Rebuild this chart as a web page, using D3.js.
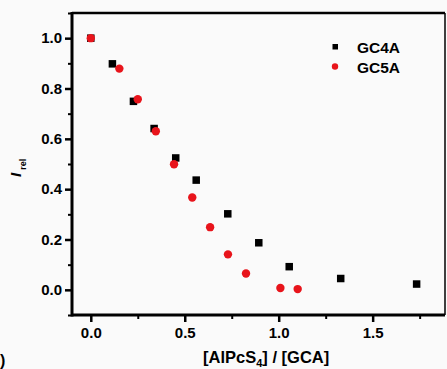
<!DOCTYPE html>
<html>
<head>
<meta charset="utf-8">
<script src="https://cdn.jsdelivr.net/npm/d3@7"></script>
<style>
  body { margin: 0; background: #fafafa; }
  svg { display: block; font-family: "Liberation Sans", Arial, sans-serif; }
  .tick text { font-weight: bold; font-size: 15px; fill: #000; }
</style>
</head>
<body>
<svg id="chart" width="447" height="369"></svg>
<script>
// GC4A (squares)
const gc4aX = [0.0, 0.115, 0.227, 0.337, 0.452, 0.561, 0.729, 0.894, 1.056, 1.330, 1.734];
const gc4aY = [1.0, 0.898, 0.749, 0.641, 0.524, 0.436, 0.302, 0.187, 0.092, 0.045, 0.023];
// GC5A (circles)
const gc5aX = [0.0, 0.152, 0.250, 0.346, 0.443, 0.540, 0.635, 0.730, 0.826, 1.009, 1.101];
const gc5aY = [1.0, 0.879, 0.757, 0.630, 0.499, 0.367, 0.249, 0.141, 0.065, 0.007, 0.003];

const xTicks = [0.0, 0.5, 1.0, 1.5];
const yTicks = [0.0, 0.2, 0.4, 0.6, 0.8, 1.0];

const gc4a = gc4aX.map((x, i) => ({ x: x, y: gc4aY[i] }));
const gc5a = gc5aX.map((x, i) => ({ x: x, y: gc5aY[i] }));

const margin = { left: 72, top: 13, right: 2, bottom: 54 };
const width = 447 - margin.left - margin.right;
const height = 369 - margin.top - margin.bottom;

const svg = d3.select("#chart");
const vis = svg.append("g").attr("transform", `translate(${margin.left}, ${margin.top})`);

const xScale = d3.scaleLinear().domain([-0.1, 1.885]).range([0, width]);
const yScale = d3.scaleLinear().domain([-0.1, 1.1]).range([height, 0]);

// minor ticks
vis.append("g")
    .attr("transform", `translate(0, ${height})`)
    .call(d3.axisBottom(xScale).tickValues([0.25, 0.75, 1.25, 1.75]).tickSize(4).tickFormat(""))
    .call(g => g.select(".domain").remove())
    .selectAll("line").attr("stroke-width", 2);
vis.append("g")
    .call(d3.axisLeft(yScale).tickValues([-0.1, 0.1, 0.3, 0.5, 0.7, 0.9, 1.1]).tickSize(4).tickFormat(""))
    .call(g => g.select(".domain").remove())
    .selectAll("line").attr("stroke-width", 2);

// X axis
vis.append("g")
    .attr("transform", `translate(0, ${height})`)
    .call(d3.axisBottom(xScale).tickValues(xTicks).tickSize(7).tickPadding(5).tickFormat(d3.format(".1f")))
    .call(g => g.select(".domain").remove())
    .selectAll("line").attr("stroke-width", 2.5);

// Y axis
vis.append("g")
    .call(d3.axisLeft(yScale).tickValues(yTicks).tickSize(7).tickPadding(3).tickFormat(d3.format(".1f")))
    .call(g => g.select(".domain").remove())
    .selectAll("line").attr("stroke-width", 2.5);

// frame
vis.append("line").attr("x1", width).attr("x2", width).attr("y1", 0).attr("y2", height)
    .attr("stroke", "#000").attr("stroke-width", 1.5);
vis.append("line").attr("x1", 0).attr("x2", width).attr("y1", 0).attr("y2", 0)
    .attr("stroke", "#000").attr("stroke-width", 2.5);
vis.append("line").attr("x1", 0).attr("x2", width).attr("y1", height).attr("y2", height)
    .attr("stroke", "#000").attr("stroke-width", 3);
vis.append("line").attr("x1", 0).attr("x2", 0).attr("y1", -1).attr("y2", height + 1.5)
    .attr("stroke", "#000").attr("stroke-width", 3);

// points
const sq = 7.5;
vis.append("g").selectAll("rect")
    .data(gc4a)
    .enter()
    .append("rect")
    .attr("x", d => xScale(d.x) - sq / 2)
    .attr("y", d => yScale(d.y) - sq / 2)
    .attr("width", sq)
    .attr("height", sq)
    .attr("fill", "#000");

vis.append("g").selectAll("circle")
    .data(gc5a)
    .enter()
    .append("circle")
    .attr("cx", d => xScale(d.x))
    .attr("cy", d => yScale(d.y))
    .attr("r", 4.2)
    .attr("fill", "#e8141b");

// legend
svg.append("rect").attr("x", 332.5).attr("y", 44).attr("width", 5.5).attr("height", 5.5).attr("fill", "#000");
svg.append("circle").attr("cx", 335).attr("cy", 66.5).attr("r", 3.2).attr("fill", "#e8141b");
svg.append("text").attr("x", 357).attr("y", 52.5).attr("font-weight", "bold").attr("font-size", 15.5).text("GC4A");
svg.append("text").attr("x", 357).attr("y", 72.5).attr("font-weight", "bold").attr("font-size", 15.5).text("GC5A");

// axis titles
const xt = svg.append("text").attr("x", 203).attr("y", 363).attr("font-weight", "bold").attr("font-size", 16.5);
xt.append("tspan").text("[AlPcS");
xt.append("tspan").attr("font-size", 11).attr("dy", 4).text("4");
xt.append("tspan").attr("dy", -4).text("] / [GCA]");

const yt = svg.append("text").attr("transform", "translate(21, 177) rotate(-90)")
    .attr("font-weight", "bold").attr("font-size", 15);
yt.append("tspan").attr("font-style", "italic").text("I");
yt.append("tspan").attr("font-size", 9).attr("dx", 3).attr("dy", 5).text("rel");

// cropped panel label (only the closing bracket is visible)
svg.append("text").attr("x", 0).attr("y", 366)
    .attr("font-weight", "bold").attr("font-size", 16).text(")");
</script>
</body>
</html>
